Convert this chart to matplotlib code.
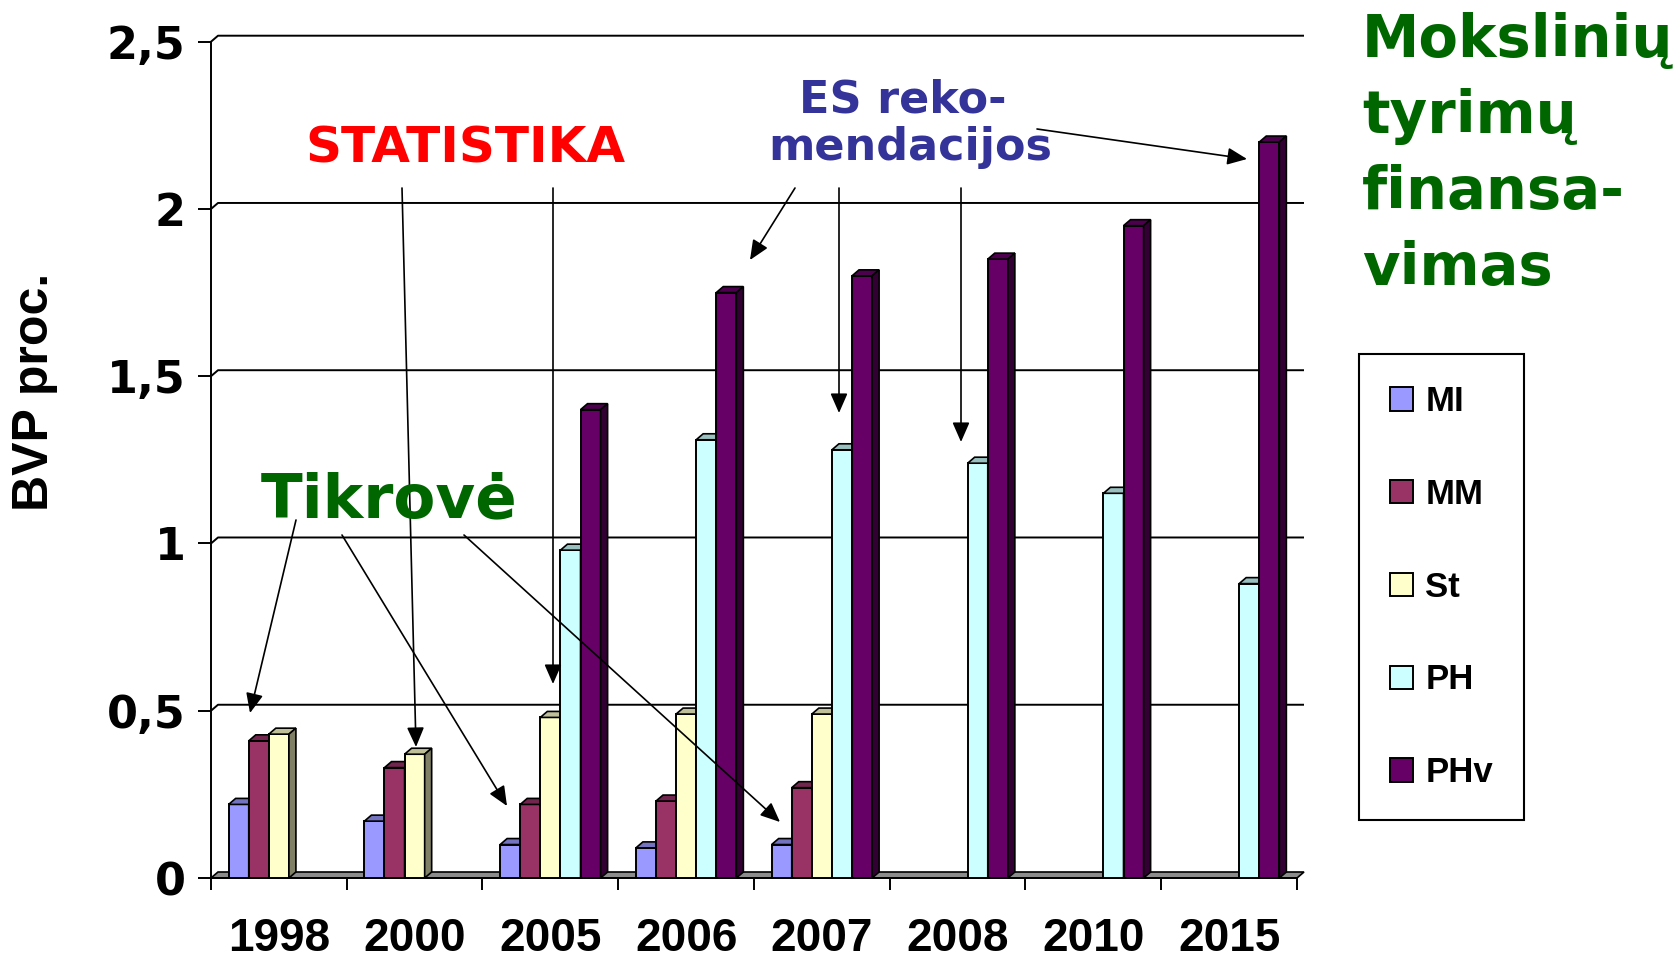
import numpy as np
import matplotlib
matplotlib.use('Agg')
import matplotlib.pyplot as plt
from matplotlib.patches import Polygon, Patch
from matplotlib.colors import to_rgb

# data (share of GDP, %)
years = ['1998', '2000', '2005', '2006', '2007', '2008', '2010', '2015']
series = ['MI', 'MM', 'St', 'PH', 'PHv']
mi = [0.22, 0.17, 0.10, 0.09, 0.10, 0, 0, 0]
mm = [0.41, 0.33, 0.22, 0.23, 0.27, 0, 0, 0]
st = [0.43, 0.37, 0.48, 0.49, 0.49, 0, 0, 0]
ph = [0, 0, 0.98, 1.31, 1.28, 1.24, 1.15, 0.88]
phv = [0, 0, 1.40, 1.75, 1.80, 1.85, 1.95, 2.20]
colors = ['#9999FF', '#993366', '#FFFFCC', '#CCFFFF', '#660066']
yticks = [0, 0.5, 1, 1.5, 2, 2.5]
ytick_labels = ['0', '0,5', '1', '1,5', '2', '2,5']

W, H = 1681, 961
fig = plt.figure(figsize=(W / 100, H / 100), dpi=100)


def px(x, y):
    # pixel position (top-left origin) -> figure fraction
    return x / W, 1 - y / H


def shade(c, f):
    r, g, b = to_rgb(c)
    return (r * f, g * f, b * f)


# front plane of the 3d chart
L, R, T, B = 211, 1297, 41.7, 878
ax = fig.add_axes([L / W, 1 - B / H, (R - L) / W, (B - T) / H])
n = len(years)
ax.set_xlim(0, n)
ax.set_ylim(0, 2.5)
DX = 7 / ((R - L) / n)
DY = 6 / ((B - T) / 2.5)

for s in ['top', 'right']:
    ax.spines[s].set_visible(False)
ax.spines['left'].set_linewidth(1.4)
ax.spines['bottom'].set_linewidth(1.4)

# back wall gridlines with the little side-wall slant
for v in yticks[1:]:
    ax.plot([0, DX, n + DX], [v, v + DY, v + DY], color='black', lw=1.4,
            clip_on=False, zorder=1, solid_capstyle='butt')
# floor
ax.add_patch(Polygon([(0, 0), (n, 0), (n + DX, DY), (DX, DY)], closed=True,
                     facecolor='#8c8c8c', edgecolor='black', lw=1.2,
                     clip_on=False, zorder=2))

data = [mi, mm, st, ph, phv]
bw = 0.148
xc = np.arange(n) + 0.5
for s, (vals, c) in enumerate(zip(data, colors)):
    vals = np.array(vals, dtype=float)
    keep = vals > 0
    xs = xc[keep] + (s - 2) * bw
    bars = ax.bar(xs, vals[keep], width=bw, color=c, edgecolor='black',
                  linewidth=1.4, zorder=3 + s, clip_on=False)
    for rect in bars:
        x0 = rect.get_x()
        x1 = x0 + rect.get_width()
        v = rect.get_height()
        ax.add_patch(Polygon([(x0, v), (x1, v), (x1 + DX, v + DY), (x0 + DX, v + DY)],
                             closed=True, facecolor=shade(c, 0.75), edgecolor='black',
                             lw=1.2, zorder=3 + s, clip_on=False))
        ax.add_patch(Polygon([(x1, 0), (x1 + DX, DY), (x1 + DX, v + DY), (x1, v)],
                             closed=True, facecolor=shade(c, 0.5), edgecolor='black',
                             lw=1.2, zorder=3 + s, clip_on=False))

# ticks
ax.set_yticks(yticks, ytick_labels)
ax.tick_params(axis='y', length=9.4, width=1.4, pad=9)
for lab in ax.get_yticklabels():
    lab.set_fontfamily('DejaVu Sans')
    lab.set_fontweight('bold')
    lab.set_fontsize(32)

ax.set_xticks(xc, years)
ax.set_xticks(np.arange(n + 1), minor=True)
ax.tick_params(axis='x', which='major', length=0, pad=28)
ax.tick_params(axis='x', which='minor', length=8.6, width=1.4)
for lab in ax.get_xticklabels():
    lab.set_fontfamily('Liberation Sans')
    lab.set_fontweight('bold')
    lab.set_fontsize(33)

fig.text(*px(35, 392), 'BVP proc.', rotation=90, ha='center', va='center',
         family='Liberation Sans', weight='bold', fontsize=36)

# legend
handles = [Patch(facecolor=c, edgecolor='black', linewidth=1.4) for c in colors]
leg = fig.legend(handles, series, loc='upper left', bbox_to_anchor=px(1359, 354),
                 bbox_transform=fig.transFigure, frameon=True, fancybox=False,
                 edgecolor='black', framealpha=1, borderpad=0.9, labelspacing=1.72,
                 handlelength=0.66, handleheight=0.66, handletextpad=0.35,
                 borderaxespad=0,
                 prop=dict(family='Liberation Sans', weight='bold', size=25))
leg.get_frame().set_linewidth(1.5)

# annotations
green = '#006600'
title_lines = ['Mokslinių', 'tyrimų', 'finansa-', 'vimas']
for line, yb in zip(title_lines, [57, 133, 209, 285]):
    fig.text(*px(1362, yb), line, ha='left', va='baseline', color=green,
             family='DejaVu Sans', weight='bold', fontsize=41.5)

fig.text(*px(465, 162), 'STATISTIKA', ha='center', va='baseline', color='#FF0000',
         family='DejaVu Sans', weight='bold', fontsize=36)
fig.text(*px(903, 113), 'ES reko-', ha='center', va='baseline', color='#333399',
         family='DejaVu Sans', weight='bold', fontsize=32)
fig.text(*px(910, 160), 'mendacijos', ha='center', va='baseline', color='#333399',
         family='DejaVu Sans', weight='bold', fontsize=32)
fig.text(*px(389, 517), 'Tikrovė', ha='center', va='baseline', color=green,
         family='DejaVu Sans', weight='bold', fontsize=44)

arrows = [
    ((402, 188), (416, 747)),
    ((553, 188), (553, 684)),
    ((795, 188), (750, 260)),
    ((839, 188), (839, 413)),
    ((961, 188), (961, 442)),
    ((1037, 129), (1247, 159)),
    ((296, 520), (250, 713)),
    ((342, 535), (507, 806)),
    ((464, 535), (780, 822)),
]
for (x0, y0), (x1, y1) in arrows:
    ax.annotate('', xy=(x1, H - y1), xytext=(x0, H - y0),
                xycoords='figure pixels', textcoords='figure pixels',
                annotation_clip=False,
                arrowprops=dict(arrowstyle='-|>,head_length=0.8,head_width=0.35',
                                mutation_scale=15, lw=1.2, color='black',
                                shrinkA=0, shrinkB=0),
                zorder=20)

fig.savefig('out.png', dpi=100)
